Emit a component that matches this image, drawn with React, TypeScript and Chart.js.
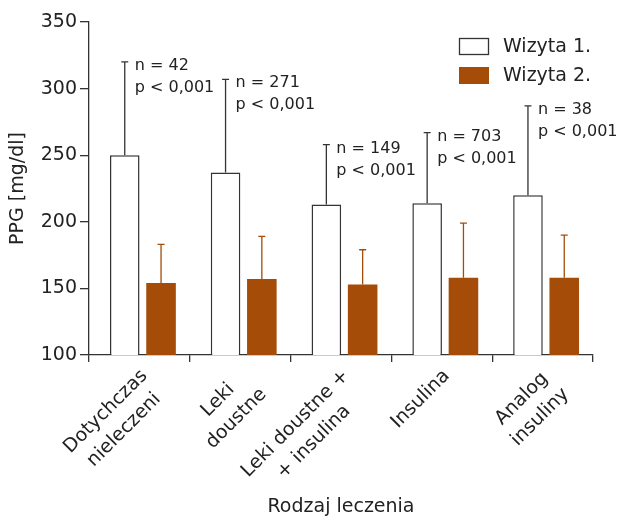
import React, { useEffect, useRef } from 'react';
import { Chart, registerables } from 'chart.js';

Chart.register(...registerables);

// ---- data ----
const categories: string[][] = [
  ['Dotychczas', 'nieleczeni'],
  ['Leki', 'doustne'],
  ['Leki doustne +', '+ insulina'],
  ['Insulina'],
  ['Analog', 'insuliny'],
];
const seriesLabels = ['Wizyta 1.', 'Wizyta 2.'];
const visit1Mean = [250, 237, 213, 214, 220];
const visit1SD = [70, 70, 45, 53, 67];
const visit2Mean = [154, 157, 153, 158, 158];
const visit2SD = [29, 32, 26, 41, 32];
const nLabels = ['n = 42', 'n = 271', 'n = 149', 'n = 703', 'n = 38'];
const pLabels = ['p < 0,001', 'p < 0,001', 'p < 0,001', 'p < 0,001', 'p < 0,001'];
const yMin = 100;
const yMax = 350;
const yStep = 50;
const yTitle = 'PPG [mg/dl]';
const xTitle = 'Rodzaj leczenia';

const FONT = '"DejaVu Sans", sans-serif';
const TEXT = '#222222';
const AXIS = '#333333';
const ORANGE = '#a44c08';
const BAR_SHIFT = 3.5;

const overlay = {
  id: 'overlay',
  beforeDatasetsDraw(chart: any) {
    chart.ctx.save();
    chart.ctx.translate(BAR_SHIFT, 0);
  },
  afterDatasetsDraw(chart: any) {
    const ctx = chart.ctx;
    const ys = chart.scales.y;
    const sets: [number[], number[], string][] = [
      [visit1Mean, visit1SD, AXIS],
      [visit2Mean, visit2SD, ORANGE],
    ];
    sets.forEach(([m, sd, col], di) => {
      const meta = chart.getDatasetMeta(di);
      meta.data.forEach((bar: any, i: number) => {
        const top = ys.getPixelForValue(m[i] + sd[i]);
        ctx.save();
        ctx.strokeStyle = col;
        ctx.lineWidth = 1.3;
        ctx.beginPath();
        ctx.moveTo(bar.x, bar.y);
        ctx.lineTo(bar.x, top);
        ctx.moveTo(bar.x - 3.5, top);
        ctx.lineTo(bar.x + 3.5, top);
        ctx.stroke();
        if (di === 0) {
          ctx.fillStyle = TEXT;
          ctx.font = '16px ' + FONT;
          ctx.textAlign = 'left';
          ctx.textBaseline = 'middle';
          ctx.fillText(nLabels[i], bar.x + 10, top + 4);
          ctx.fillText(pLabels[i], bar.x + 10, top + 26);
        }
        ctx.restore();
      });
    });
    ctx.restore();
  },
  afterDraw(chart: any) {
    const ctx = chart.ctx;
    const xs = chart.scales.x;
    const area = chart.chartArea;
    ctx.save();
    ctx.fillStyle = TEXT;
    ctx.font = '19px ' + FONT;
    // x category labels, rotated, centered lines
    const LH = 26;
    categories.forEach((lines, i) => {
      const cx = xs.getPixelForValue(i);
      ctx.save();
      ctx.translate(cx + 5, area.bottom + 18);
      ctx.rotate(-Math.PI / 4);
      ctx.textAlign = 'center';
      ctx.textBaseline = 'middle';
      const W = Math.max(...lines.map((l) => ctx.measureText(l).width));
      lines.forEach((l, k) => ctx.fillText(l, -W / 2, k * LH));
      ctx.restore();
    });
    // axis titles
    ctx.textAlign = 'center';
    ctx.textBaseline = 'middle';
    ctx.fillText(xTitle, (area.left + area.right) / 2, 507);
    ctx.save();
    ctx.translate(18, (area.top + area.bottom) / 2);
    ctx.rotate(-Math.PI / 2);
    ctx.fillText(yTitle, 0, 0);
    ctx.restore();
    // legend
    ctx.fillStyle = '#ffffff';
    ctx.fillRect(459.5, 38.5, 29, 16);
    ctx.strokeStyle = AXIS;
    ctx.lineWidth = 1.3;
    ctx.strokeRect(459.5, 38.5, 29, 16);
    ctx.fillStyle = ORANGE;
    ctx.fillRect(459, 67, 30, 17);
    ctx.fillStyle = TEXT;
    ctx.textAlign = 'left';
    ctx.fillText(seriesLabels[0], 503, 47);
    ctx.fillText(seriesLabels[1], 503, 76);
    ctx.restore();
  },
};

export default function App() {
  const ref = useRef<HTMLCanvasElement | null>(null);
  useEffect(() => {
    document.body.style.margin = '0';
    const canvas = ref.current;
    if (!canvas) return;
    const chart = new Chart(canvas, {
      type: 'bar',
      data: {
        labels: categories.map((c) => c.join(' ')),
        datasets: [
          {
            label: seriesLabels[0],
            data: visit1Mean,
            backgroundColor: '#ffffff',
            borderColor: AXIS,
            borderWidth: 1.5,
            categoryPercentage: 0.72,
            barPercentage: 0.815,
          },
          {
            label: seriesLabels[1],
            data: visit2Mean,
            backgroundColor: ORANGE,
            borderWidth: 0,
            categoryPercentage: 0.72,
            barPercentage: 0.815,
          },
        ],
      },
      options: {
        responsive: false,
        animation: false,
        layout: { padding: { left: 0, right: 26, top: 22, bottom: 0 } },
        plugins: { legend: { display: false }, tooltip: { enabled: false } },
        scales: {
          x: {
            type: 'category',
            offset: true,
            grid: { offset: true, drawOnChartArea: false, drawTicks: true, tickLength: 7, color: AXIS, lineWidth: 1.3 },
            border: { color: AXIS, width: 1.3 },
            ticks: { display: false },
            afterFit: (s: any) => { s.height = 517 - 355; },
          },
          y: {
            min: yMin,
            max: yMax,
            ticks: { stepSize: yStep, color: TEXT, font: { family: FONT, size: 19 }, padding: 3 },
            grid: { drawOnChartArea: false, drawTicks: true, tickLength: 9, color: AXIS, lineWidth: 1.3 },
            border: { color: AXIS, width: 1.3 },
            afterFit: (s: any) => { s.width = 89; },
          },
        },
      },
      plugins: [overlay],
    });
    return () => chart.destroy();
  }, []);
  return (
    <div style={{ width: 619, height: 517 }}>
      <canvas ref={ref} width={619} height={517} />
    </div>
  );
}
